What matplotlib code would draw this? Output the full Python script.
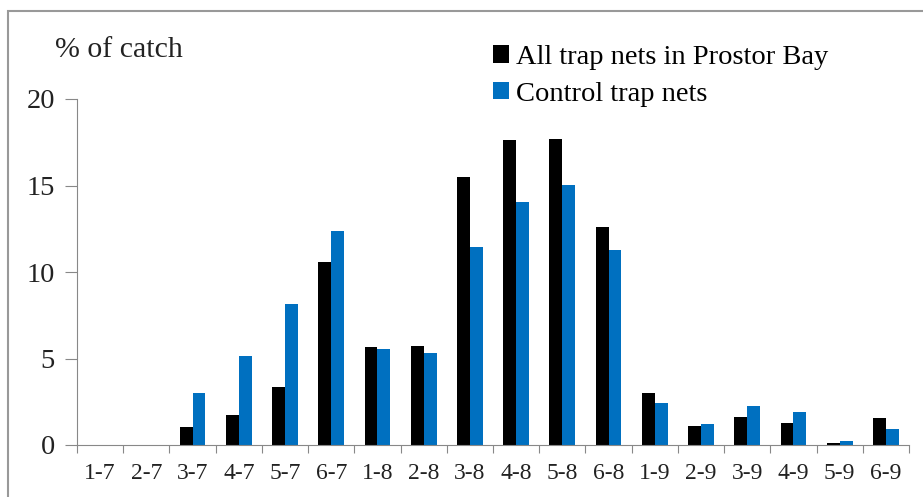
import matplotlib.pyplot as plt
import numpy as np
from matplotlib.patches import Rectangle

# categories (age groups)
categories = ['1-7', '2-7', '3-7', '4-7', '5-7', '6-7', '1-8', '2-8', '3-8',
              '4-8', '5-8', '6-8', '1-9', '2-9', '3-9', '4-9', '5-9', '6-9']
all_nets = [0, 0, 1.04, 1.73, 3.35, 10.56, 5.66, 5.74, 15.47,
            17.61, 17.7, 12.6, 2.99, 1.1, 1.64, 1.29, 0.13, 1.54]
control_nets = [0, 0, 2.99, 5.13, 8.17, 12.37, 5.55, 5.3, 11.45,
                14.05, 15.03, 11.27, 2.45, 1.19, 2.27, 1.9, 0.21, 0.92]

plt.rcParams['font.family'] = ['Liberation Serif', 'DejaVu Serif']

fig = plt.figure(figsize=(9.23, 4.97), dpi=100)
ax = fig.add_axes([77/923, 1-445/497, (909-77)/923, (445-99)/497])

x = np.arange(len(categories))
w = 0.28
ax.bar(x - w/2, all_nets, w, color='black', label='All trap nets in Prostor Bay')
ax.bar(x + w/2, control_nets, w, color='#0070C0', label='Control trap nets')

ax.set_xlim(-0.5, len(categories) - 0.5)
ax.set_ylim(0, 20)
ax.set_yticks([0, 5, 10, 15, 20])
ax.set_xticks(np.arange(len(categories) + 1) - 0.5)
ax.set_xticklabels([])
ax.set_xticks(x, minor=True)
ax.set_xticklabels(categories, minor=True)
ax.tick_params(axis='x', which='major', length=6, color='#888888', direction='out')
ax.tick_params(axis='x', which='minor', length=0, pad=13, labelsize=17, labelcolor='#222222')
ax.tick_params(axis='y', length=9, color='#888888', pad=7, labelsize=20.5, labelcolor='#222222')

for s in ['top', 'right']:
    ax.spines[s].set_visible(False)
for s in ['left', 'bottom']:
    ax.spines[s].set_color('#888888')

fig.text(55/923, 1-50/497, '% of catch', fontsize=21.5, color='#222222', va='center')

ax.legend(loc='upper left', bbox_to_anchor=(493/923, 1-45/497), bbox_transform=fig.transFigure,
          frameon=False, fontsize=20.5, handlelength=0.55, handleheight=0.55,
          handletextpad=0.25, labelspacing=0.42, borderaxespad=0, borderpad=0)

# outer frame
fig.patches.append(Rectangle((8/923, -0.1), 1.2, 1.1 - 11/497, transform=fig.transFigure,
                             fill=False, edgecolor='#999999', linewidth=1.5, clip_on=False))

plt.savefig('out.png', dpi=100)
